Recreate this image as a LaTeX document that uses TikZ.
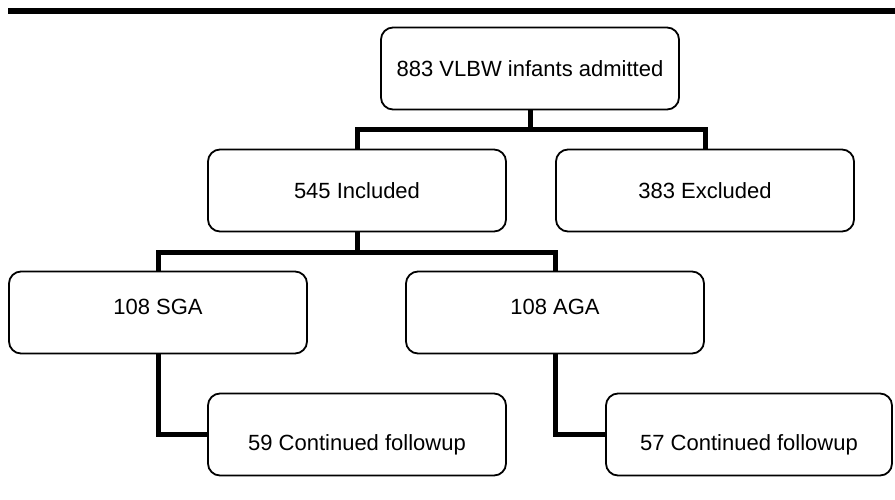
\documentclass[tikz,border=0pt]{standalone}
\usepackage{fontspec}
\setmainfont{Liberation Sans}
\usepackage{tikz}
\tikzstyle{roundbox} = [rectangle, rounded corners=12pt, minimum width=298pt, minimum height=82pt, draw=black, line width=1.8pt, font=\fontsize{22}{26}\selectfont]
\tikzstyle{upperbox} = [roundbox, text height=16pt, text depth=12pt]
\tikzstyle{lowerbox} = [roundbox, text height=37pt, text depth=5pt]
\tikzstyle{connector} = [line width=5pt, draw=black]

\begin{document}
\begin{tikzpicture}[node distance=122pt]
      \useasboundingbox (0,0) rectangle (895pt,-499pt);
      \fill [black] (8pt,-7.5pt) rectangle (895pt,-14pt);

      \node (admitted) [roundbox] at (530pt,-68.5pt) {883 VLBW infants admitted};
      \node (included) [roundbox, below of=admitted, xshift=-173pt] {545 Included};
      \node (excluded) [roundbox, below of=admitted, xshift=175pt] {383 Excluded};

      \node (sga) [upperbox, below of=included, xshift=-199pt] {108 SGA};
      \node (aga) [upperbox, below of=included, xshift=198pt] {108 AGA};

      \node (sgafollow) [lowerbox, below of=sga, xshift=199pt] {59 Continued followup};
      \node (agafollow) [lowerbox, minimum width=286pt, below of=aga, xshift=194pt] {57 Continued followup};

      \coordinate[below of=admitted, yshift=61pt] (split1);
      \coordinate[below of=included, yshift=60pt] (split2);

      \draw [connector] (admitted) -- (split1);
      \draw [connector] (included.north) |- (split1) -| (excluded.north);

      \draw [connector] (included) -- (split2);
      \draw [connector] (sga.north) |- (split2) -| (aga.north);

      \draw [connector] (sga) |- (sgafollow);
      \draw [connector] (aga) |- (agafollow);
    \end{tikzpicture}
\end{document}
